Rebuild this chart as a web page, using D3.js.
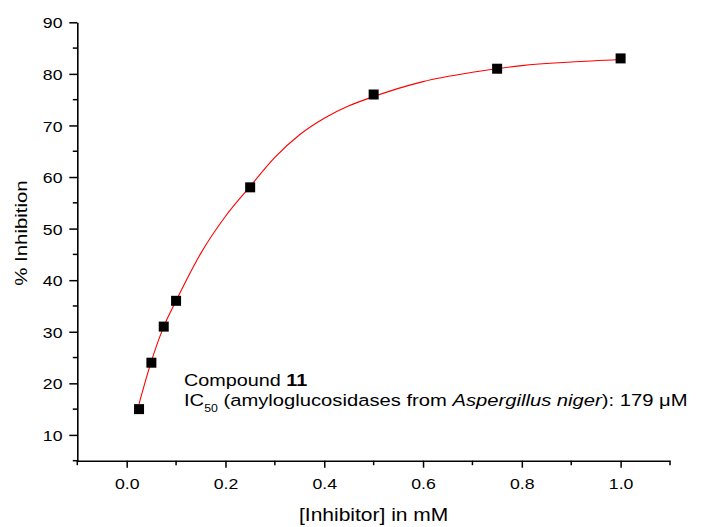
<!DOCTYPE html>
<html>
<head>
<meta charset="utf-8">
<script src="https://cdn.jsdelivr.net/npm/d3@7"></script>
<style>
  html, body { margin: 0; padding: 0; background: #fff; }
  svg { display: block; font-family: Arial, "Liberation Sans", Helvetica, sans-serif; }
</style>
</head>
<body>
<svg id="chart" width="723" height="527"></svg>
<script>
// Measured inhibition at each inhibitor concentration (mM)
const concentration = [0.025, 0.05, 0.075, 0.1, 0.25, 0.5, 0.75, 1.0];
const inhibition = [15, 24, 31, 36, 58, 76, 81, 83];

// Fitted dose-response curve
const fitX = [0.025, 0.05, 0.075, 0.1, 0.15, 0.2, 0.25, 0.3, 0.35, 0.4, 0.45, 0.5, 0.6, 0.7, 0.8, 0.9, 1.0];
const fitY = [16.0, 24.3, 31.0, 36.0, 45.2, 52.4, 58.2, 63.8, 68.2, 71.4, 73.8, 75.6, 78.5, 80.3, 81.6, 82.3, 82.8];

// Axis ticks
const xMajor = [0.0, 0.2, 0.4, 0.6, 0.8, 1.0];
const xMinor = [-0.1, 0.1, 0.3, 0.5, 0.7, 0.9, 1.1];
const yMajor = [10, 20, 30, 40, 50, 60, 70, 80, 90];
const yMinor = [5, 15, 25, 35, 45, 55, 65, 75, 85];

const svg = d3.select("#chart");

const x = d3.scaleLinear().domain([-0.1, 1.1]).range([77.3, 670]);
const y = d3.scaleLinear().domain([5, 90]).range([460.7, 22.3]);

// Wide text rendering: glyphs are drawn stretched along the baseline
const tickStretch = 1.14;
const textStretch = 1.2;

// Curve
const line = d3.line()
  .x(d => x(d[0]))
  .y(d => y(d[1]))
  .curve(d3.curveMonotoneX);

svg.append("path")
  .datum(fitX.map((v, i) => [v, fitY[i]]))
  .attr("d", line)
  .attr("fill", "none")
  .attr("stroke", "#ff0000")
  .attr("stroke-width", 1.1);

// Data markers
const sq = 10;
svg.append("g").selectAll("rect")
  .data(concentration.map((v, i) => [v, inhibition[i]]))
  .join("rect")
  .attr("x", d => x(d[0]) - sq / 2)
  .attr("y", d => y(d[1]) - sq / 2)
  .attr("width", sq)
  .attr("height", sq)
  .attr("fill", "#000");

// Axes
const fmtX = d3.format(".1f");

const xAxis = svg.append("g").attr("transform", `translate(0,${y(5)})`);
xAxis.call(d3.axisBottom(x).tickValues(xMajor).tickFormat(fmtX).tickSize(7).tickSizeOuter(0));
xAxis.append("g").selectAll("line")
  .data(xMinor).join("line")
  .attr("x1", d => x(d)).attr("x2", d => x(d))
  .attr("y1", 0).attr("y2", 4.5)
  .attr("stroke", "#000").attr("stroke-width", 1.5);

const yAxis = svg.append("g").attr("transform", `translate(${x(-0.1)},0)`);
yAxis.call(d3.axisLeft(y).tickValues(yMajor).tickFormat(d3.format("d")).tickSize(8).tickSizeOuter(0));
yAxis.append("g").selectAll("line")
  .data(yMinor).join("line")
  .attr("y1", d => y(d)).attr("y2", d => y(d))
  .attr("x1", 0).attr("x2", -4.5)
  .attr("stroke", "#000").attr("stroke-width", 1.5);

svg.selectAll(".domain").attr("stroke", "#000").attr("stroke-width", 1.6);
svg.selectAll(".tick line").attr("stroke", "#000").attr("stroke-width", 1.5);
svg.selectAll(".tick text")
  .attr("font-family", "Arial, 'Liberation Sans', sans-serif")
  .attr("font-size", 15.5)
  .attr("fill", "#000");
xAxis.selectAll(".tick text")
  .attr("dy", null)
  .attr("x", 0)
  .attr("y", 28.5)
  .attr("transform", `scale(${tickStretch},1)`);
yAxis.selectAll(".tick text")
  .attr("x", -14.8 / tickStretch)
  .attr("dy", "0.36em")
  .attr("transform", `scale(${tickStretch},1)`);

// Axis titles
svg.append("text")
  .attr("transform", `translate(${(x(-0.1) + x(1.1)) / 2},521) scale(${textStretch},1)`)
  .attr("text-anchor", "middle")
  .attr("font-size", 17.5)
  .text("[Inhibitor] in mM");

svg.append("text")
  .attr("transform", `translate(27,233) rotate(-90) scale(${textStretch},1)`)
  .attr("text-anchor", "middle")
  .attr("font-size", 17)
  .text("% Inhibition");

// Annotation
const note = svg.append("g").attr("font-size", 16.5);
const t1 = note.append("text").attr("transform", `translate(184,386) scale(${textStretch},1)`);
t1.append("tspan").text("Compound ");
t1.append("tspan").attr("font-weight", "bold").text("11");

const t2 = note.append("text").attr("transform", `translate(184,406) scale(1.225,1)`);
t2.append("tspan").text("IC");
t2.append("tspan").attr("font-size", 10).attr("dy", 6).text("50");
t2.append("tspan").attr("dy", -6).text(" (amyloglucosidases from ");
t2.append("tspan").attr("font-style", "italic").text("Aspergillus niger");
t2.append("tspan").text("): 179 μM");
</script>
</body>
</html>
